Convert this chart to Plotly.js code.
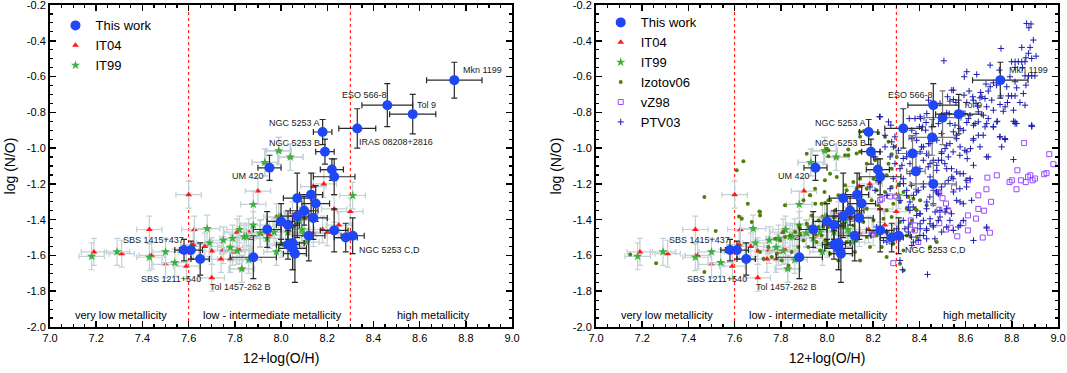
<!DOCTYPE html>
<html>
<head>
<meta charset="utf-8">
<script src="https://cdn.plot.ly/plotly-3.0.1.min.js"></script>
<style>
  html, body { margin: 0; padding: 0; background: #fff; }
  #chart { width: 1067px; height: 373px; }
</style>
</head>
<body>
<div id="chart"></div>
<script>
// This work (both panels)
const workX = [8.75, 8.46, 8.57, 8.33, 8.18, 8.19, 7.95, 8.22, 8.23, 8.07, 8.13, 8.15, 8.10, 8.07, 8.14, 8.00, 8.03, 7.94, 8.23, 8.12, 8.28, 8.31, 8.03, 8.05, 8.05, 8.06, 7.58, 7.61, 7.65, 7.88];
const workY = [-0.62, -0.76, -0.81, -0.89, -0.91, -1.02, -1.11, -1.12, -1.16, -1.28, -1.26, -1.31, -1.35, -1.38, -1.39, -1.41, -1.43, -1.455, -1.46, -1.49, -1.50, -1.49, -1.54, -1.53, -1.56, -1.59, -1.57, -1.57, -1.62, -1.61];
const workXErr = [0.12, 0.11, 0.10, 0.08, 0.04, 0.04, 0.05, 0.05, 0.09, 0.06, 0.05, 0.06, 0.06, 0.07, 0.06, 0.06, 0.05, 0.06, 0.06, 0.07, 0.05, 0.05, 0.05, 0.05, 0.06, 0.05, 0.04, 0.05, 0.04, 0.10];
const workYErr = [0.10, 0.12, 0.11, 0.11, 0.07, 0.07, 0.07, 0.06, 0.10, 0.14, 0.12, 0.10, 0.08, 0.12, 0.12, 0.10, 0.08, 0.10, 0.12, 0.14, 0.08, 0.10, 0.08, 0.15, 0.12, 0.16, 0.06, 0.05, 0.09, 0.12];

// extra high-metallicity points of this work, right panel only
const extraX = [8.50, 8.455, 8.37, 8.385, 8.46];
const extraY = [-0.83, -0.94, -1.03, -1.13, -1.20];
const extraXErr = [0.08, 0.10, 0.07, 0.04, 0.10];
const extraYErr = [0.15, 0.10, 0.10, 0.10, 0.12];

// IT04
const it04X = [7.19, 7.31, 7.43, 7.44, 7.50, 7.60, 7.59, 7.62, 7.70, 7.625, 7.67, 7.70, 7.74, 7.78, 7.75, 7.79, 7.82, 7.83, 7.86, 7.90, 7.91, 7.95, 8.02, 8.05, 8.07, 8.10, 8.14, 8.185, 8.23, 8.18, 8.20, 8.25, 8.30, 8.14, 7.98, 8.09, 7.81, 7.87, 7.99, 8.04, 7.93];
const it04Y = [-1.58, -1.59, -1.455, -1.60, -1.65, -1.26, -1.66, -1.54, -1.725, -1.455, -1.55, -1.575, -1.62, -1.62, -1.57, -1.58, -1.57, -1.675, -1.47, -1.24, -1.48, -1.485, -1.43, -1.375, -1.365, -1.395, -1.215, -1.20, -1.34, -1.455, -1.47, -1.43, -1.355, -1.475, -1.385, -1.475, -1.47, -1.505, -1.015, -1.05, -1.08];

// IT99
const it99X = [7.18, 7.29, 7.43, 7.50, 7.54, 7.68, 7.69, 7.75, 7.78, 7.81, 7.82, 7.84, 7.83, 7.86, 7.88, 7.88, 7.91, 7.94, 7.97, 7.99, 8.00, 7.98, 8.03, 8.08, 8.09, 8.10, 8.11, 8.31, 7.79, 7.85, 7.93, 7.99, 8.04];
const it99Y = [-1.605, -1.58, -1.61, -1.58, -1.64, -1.45, -1.53, -1.515, -1.555, -1.575, -1.455, -1.495, -1.675, -1.625, -1.315, -1.43, -1.475, -1.505, -1.47, -1.385, -1.535, -1.58, -1.47, -1.405, -1.455, -1.48, -1.525, -1.265, -1.505, -1.495, -1.08, -1.015, -1.05];

// Izotov06
const izoX = [7.148, 7.26, 7.469, 7.469, 7.518, 7.609, 7.638, 7.657, 7.619, 7.631, 7.674, 7.71, 7.707, 7.746, 7.775, 7.797, 7.818, 7.84, 7.862, 7.883,
  7.898, 7.876, 7.847, 7.92, 7.934, 7.949, 7.963, 7.977, 7.992, 7.999, 8.006, 7.927, 7.949, 7.989, 8.006, 7.992, 7.912, 7.879, 7.811, 7.782,
  7.761, 7.725, 7.71, 7.804, 7.833, 8.035, 8.028, 8.006,
  7.71, 7.818, 7.912, 8.006, 8.092, 8.143, 8.172, 8.208, 8.266, 8.28, 8.258, 8.229, 8.201, 8.143, 8.114, 8.078, 8.042, 8.013, 7.991, 7.948,
  7.926, 7.898, 7.977, 8.013, 8.049, 8.085, 8.128, 8.172, 8.215, 8.251, 8.28, 8.309, 8.331, 8.352, 8.374, 8.403, 8.431, 8.388, 8.345, 8.316,
  8.287, 8.258, 8.222, 8.193, 8.172, 8.143, 8.10, 8.071, 8.035, 7.999, 7.963, 7.934, 7.912, 7.883, 7.941, 7.984, 8.027, 8.071, 8.114, 8.157,
  8.201, 8.244, 8.28, 8.316, 8.359, 8.374, 8.345, 8.302, 8.258, 8.215, 8.172, 8.128, 8.085, 8.042, 7.999, 7.955, 7.919, 7.97, 8.013, 8.071,
  8.121, 8.186, 8.237, 8.287, 8.331, 8.388, 8.475, 8.446, 8.316, 8.331, 8.367, 8.381, 8.143, 8.049, 8.258,
  8.143, 8.16, 8.143, 8.222, 8.251, 8.266, 8.294, 8.28, 8.302, 8.092, 8.078, 8.128, 7.999];
const izoY = [-1.594, -1.643, -1.273, -1.693, -1.464, -1.124, -1.074, -1.311, -1.382, -1.395, -1.413, -1.376, -1.354, -1.553, -1.507, -1.516, -1.497, -1.488, -1.469, -1.479,
  -1.516, -1.553, -1.581, -1.441, -1.46, -1.479, -1.441, -1.488, -1.516, -1.553, -1.441, -1.264, -1.311, -1.245, -1.292, -1.307, -1.423, -1.432, -1.469, -1.59,
  -1.609, -1.619, -1.581, -1.628, -1.656, -1.348, -1.385, -1.012,
  -1.357, -1.32, -1.031, -1.046, -1.04, -1.021, -1.087, -1.068, -1.087, -1.115, -1.152, -1.189, -1.171, -1.171, -1.189, -1.208, -1.161, -1.143, -1.18, -1.227,
  -1.264, -1.292, -1.311, -1.292, -1.264, -1.236, -1.227, -1.227, -1.236, -1.245, -1.217, -1.208, -1.245, -1.273, -1.283, -1.292, -1.32, -1.348, -1.339, -1.301,
  -1.311, -1.348, -1.32, -1.292, -1.339, -1.367, -1.329, -1.367, -1.385, -1.395, -1.404, -1.376, -1.423, -1.451, -1.46, -1.441, -1.46, -1.441, -1.432, -1.413,
  -1.404, -1.395, -1.385, -1.413, -1.423, -1.46, -1.488, -1.479, -1.469, -1.488, -1.497, -1.516, -1.525, -1.544, -1.516, -1.525, -1.553, -1.572, -1.591, -1.572,
  -1.581, -1.553, -1.553, -1.535, -1.572, -1.497, -1.525, -1.553, -1.647, -1.684, -1.404, -1.339, -1.628, -1.628, -1.609,
  -0.909, -0.905, -0.937, -0.915, -0.937, -0.965, -0.993, -1.034, -1.049, -1.008, -1.04, -1.03, -1.003];

// vZ98
const vz98X = [8.853, 8.962, 8.98, 8.824, 8.735, 8.694, 8.88, 8.90, 8.87, 8.84, 8.86, 8.80, 8.79, 8.89, 8.94, 8.95, 8.82, 8.69, 8.61, 8.55,
  8.655, 8.71, 8.486, 8.50, 8.655, 8.68, 8.486, 8.525, 8.61, 8.645, 8.59, 8.61, 8.535, 8.515, 8.705, 8.674, 8.564, 8.395, 8.287, 8.486,
  8.515, 8.23, 8.30, 8.38, 8.107, 8.02, 8.198, 8.273, 8.237, 8.363, 8.381, 8.194, 8.482];
const vz98Y = [-0.971, -1.034, -1.09, -1.124, -1.152, -1.165, -1.152, -1.17, -1.16, -1.18, -1.19, -1.18, -1.19, -1.18, -1.146, -1.14, -1.23, -1.23, -1.18, -1.22,
  -1.264, -1.30, -1.25, -1.28, -1.34, -1.35, -1.344, -1.348, -1.376, -1.394, -1.42, -1.46, -1.445, -1.455, -1.473, -1.50, -1.493, -1.525, -1.643, -1.42,
  -1.31, -1.29, -1.27, -1.46, -1.395, -1.43, -1.484, -1.27, -1.283, -1.404, -1.432, -1.478, -1.245];

// PTV03
const ptvX = [8.864, 8.883, 8.874, 8.893, 8.753, 8.843, 8.879, 8.872, 8.861, 8.905, 8.886, 8.506, 8.706, 8.799, 8.814, 8.828, 8.843, 8.857, 8.814, 8.846,
  8.746, 8.605, 8.594, 8.648, 8.857, 8.872, 8.886, 8.90, 8.792, 8.814, 8.688, 8.734, 8.778, 8.821, 8.861, 8.547, 8.615, 8.665, 8.698, 8.752,
  8.785, 8.799, 8.814, 8.85, 8.631, 8.662, 8.684, 8.713, 8.532, 8.558, 8.605, 8.645, 8.749, 8.781, 8.835, 8.857, 8.691, 8.72, 8.763, 8.655,
  8.529, 8.597, 8.619, 8.677, 8.698, 8.737, 8.807, 8.814, 8.886, 8.605, 8.641, 8.532, 8.554, 8.496, 8.518, 8.405, 8.429, 8.453, 8.482, 8.356,
  8.381, 8.684,
  8.227, 8.276, 8.294, 8.251, 8.287, 8.309, 8.367, 8.385, 8.40, 8.414, 8.427, 8.439, 8.489, 8.54, 8.522, 8.547, 8.569, 8.593, 8.633, 8.651,
  8.67, 8.706, 8.72, 8.59, 8.612, 8.634, 8.655, 8.691, 8.72, 8.735, 8.771, 8.807, 8.814, 8.821, 8.886, 8.749, 8.771, 8.756, 8.807, 8.655,
  8.634, 8.576, 8.547, 8.561, 8.532, 8.511, 8.496, 8.576, 8.605, 8.691, 8.525, 8.475, 8.446, 8.417, 8.403, 8.439, 8.345, 8.33, 8.229, 8.208,
  8.273,
  8.676, 8.72, 8.748, 8.77, 8.886, 8.698, 8.621, 8.597, 8.575, 8.607, 8.546, 8.518, 8.496, 8.482, 8.51, 8.539, 8.561, 8.59, 8.619, 8.604,
  8.575, 8.546, 8.525, 8.496, 8.474, 8.445, 8.46, 8.489, 8.518, 8.539, 8.482, 8.46, 8.431, 8.402, 8.366, 8.417, 8.402, 8.431, 8.373, 8.359,
  8.344, 8.388, 8.417, 8.366, 8.33, 8.359, 8.402, 8.438, 8.46, 8.431, 8.409, 8.388, 8.467, 8.496, 8.561, 8.59, 8.633, 8.662, 8.561, 8.59,
  8.626, 8.691, 8.59, 8.568, 8.518, 8.496, 8.467, 8.431, 8.327, 8.435, 8.316, 8.337,
  8.294, 8.316, 8.345, 8.359, 8.287, 8.316, 8.273, 8.345, 8.374, 8.395, 8.417, 8.446, 8.475, 8.496, 8.518, 8.54, 8.576, 8.605, 8.634, 8.511,
  8.482, 8.547, 8.576, 8.511, 8.489, 8.46, 8.431, 8.403, 8.388, 8.359, 8.33, 8.352, 8.417, 8.395, 8.367, 8.446, 8.532, 8.547, 8.576, 8.691,
  8.634, 8.302, 8.258, 8.244, 8.28, 8.215, 8.316,
  8.23, 8.266, 8.251, 8.28, 8.201, 8.222, 8.186, 8.208, 8.259, 8.331, 8.316, 8.352, 8.432, 8.403, 8.352, 8.316, 8.259, 8.23, 8.374, 8.403,
  8.446, 8.468, 8.475, 8.446, 8.417, 8.388, 8.439, 8.367, 8.403, 8.432, 8.324, 8.461];
const ptvY = [-0.303, -0.306, -0.327, -0.396, -0.443, -0.437, -0.437, -0.47, -0.495, -0.486, -0.499, -0.512, -0.536, -0.517, -0.517, -0.517, -0.517, -0.517, -0.549, -0.549,
  -0.564, -0.573, -0.601, -0.588, -0.596, -0.596, -0.596, -0.596, -0.601, -0.629, -0.642, -0.648, -0.657, -0.663, -0.648, -0.676, -0.681, -0.689, -0.681, -0.708,
  -0.708, -0.708, -0.708, -0.695, -0.713, -0.719, -0.723, -0.732, -0.737, -0.745, -0.745, -0.75, -0.756, -0.745, -0.745, -0.76, -0.769, -0.788, -0.794, -0.797,
  -0.807, -0.807, -0.816, -0.816, -0.835, -0.85, -0.85, -0.863, -0.872, -0.857, -0.863, -0.863, -0.872, -0.816, -0.803, -0.835, -0.857, -0.881, -0.863, -0.835,
  -0.835, -0.881,
  -0.825, -0.872, -0.937, -0.993, -0.993, -1.012, -0.947, -0.919, -0.881, -0.881, -0.90, -0.732, -0.75, -0.676, -0.713, -0.728, -0.732, -0.704, -0.732, -0.765,
  -0.713, -0.657, -0.635, -0.807, -0.835, -0.872, -0.853, -0.863, -0.881, -0.853, -0.769, -0.788, -0.853, -0.863, -0.878, -0.937, -0.952, -0.993, -1.064, -0.928,
  -0.947, -0.891, -0.909, -0.947, -0.975, -1.003, -1.03, -0.993, -1.021, -1.049, -1.049, -0.956, -0.975, -0.993, -1.021, -1.04, -1.03, -1.058, -1.021, -1.049,
  -1.049,
  -0.928, -0.881, -0.937, -0.947, -0.878, -1.049, -1.003, -1.012, -1.04, -1.059, -1.021, -0.984, -1.021, -1.068, -1.087, -1.115, -1.133, -1.143, -1.171, -1.217,
  -1.227, -1.171, -1.18, -1.217, -1.245, -1.273, -1.311, -1.348, -1.339, -1.367, -1.404, -1.441, -1.46, -1.488, -1.497, -1.404, -1.367, -1.339, -1.329, -1.301,
  -1.264, -1.245, -1.217, -1.208, -1.171, -1.143, -1.115, -1.105, -1.068, -1.031, -0.993, -0.956, -0.947, -0.919, -0.928, -0.90, -0.956, -0.993, -1.292, -1.311,
  -1.292, -1.441, -1.404, -1.441, -1.441, -1.469, -1.507, -1.507, -1.68, -1.706, -1.488, -1.451,
  -1.087, -1.115, -1.049, -1.087, -1.171, -1.199, -1.227, -1.236, -1.264, -1.236, -1.199, -1.161, -1.096, -1.068, -1.115, -1.161, -1.143, -1.18, -1.096, -1.199,
  -1.255, -1.245, -1.301, -1.357, -1.385, -1.432, -1.451, -1.423, -1.376, -1.348, -1.404, -1.469, -1.488, -1.516, -1.544, -1.395, -1.404, -1.46, -1.432, -1.447,
  -1.516, -1.451, -1.469, -1.516, -1.535, -1.441, -1.628,
  -0.825, -0.853, -0.928, -0.965, -1.049, -1.189, -1.217, -1.236, -1.264, -1.199, -1.292, -1.329, -1.301, -1.367, -1.441, -1.507, -1.525, -1.46, -1.525, -1.451,
  -1.423, -1.357, -1.124, -1.087, -1.068, -1.031, -0.975, -0.90, -0.825, -0.807, -1.096, -1.236];

// object labels
const labelText = ['Mkn 1199', 'ESO 566-8', 'Tol 9', 'IRAS 08208+2816', 'NGC 5253 A', 'NGC 5253 B', 'UM 420', 'SBS 1415+437', 'SBS 1211+540', 'Tol 1457-262 B', 'NGC 5253 C,D'];
const labelX = [8.777, 8.36, 8.63, 8.496, 8.06, 8.06, 7.855, 7.447, 7.524, 7.823, 8.33];
const labelY = [-0.564, -0.704, -0.76, -0.965, -0.862, -0.971, -1.157, -1.512, -1.73, -1.777, -1.568];
const labelAnchor = ['left', 'center', 'center', 'center', 'center', 'center', 'center', 'center', 'center', 'center', 'left'];
const labelOnRight = [true, true, true, false, true, true, true, true, true, true, true];

// metallicity regions
const zoneText = ['very low metallicity', 'low - intermediate metallicity', 'high metallicity'];
const zoneX = [7.307, 7.965, 8.66];
const zoneY = -1.935;
const zoneEdges = [7.6, 8.3];

const xTickVals = [7.0, 7.2, 7.4, 7.6, 7.8, 8.0, 8.2, 8.4, 8.6, 8.8, 9.0];
const xTickText = ['7.0', '7.2', '7.4', '7.6', '7.8', '8.0', '8.2', '8.4', '8.6', '8.8', '9.0'];
const yTickVals = [-0.2, -0.4, -0.6, -0.8, -1.0, -1.2, -1.4, -1.6, -1.8, -2.0];
const yTickText = ['-0.2', '-0.4', '-0.6', '-0.8', '-1.0', '-1.2', '-1.4', '-1.6', '-1.8', '-2.0'];

const FONT = 'Liberation Sans, Arial, sans-serif';
const itErr = { type: 'constant', color: '#c2d1d5', thickness: 1.2, width: 3 };

function panel(xa, ya, lg, showLegend) {
    const base = { xaxis: xa, yaxis: ya, legend: lg, hoverinfo: 'skip' };
    const it04 = Object.assign({}, base, {
        name: 'IT04', x: it04X, y: it04Y, type: 'scatter', mode: 'markers',
        marker: { symbol: 'triangle-up', size: 6, color: '#ff1a1a' },
        error_x: Object.assign({ value: 0.055 }, itErr),
        error_y: Object.assign({ value: 0.075 }, itErr),
        legendrank: 2, showlegend: showLegend
    });
    const it99 = Object.assign({}, base, {
        name: 'IT99', x: it99X, y: it99Y, type: 'scatter', mode: 'markers',
        marker: { symbol: 'star', size: 7, color: '#3cb03c' },
        error_x: Object.assign({ value: 0.055 }, itErr),
        error_y: Object.assign({ value: 0.075 }, itErr),
        legendrank: 3, showlegend: showLegend
    });
    const work = Object.assign({}, base, {
        name: 'This work', x: workX, y: workY, type: 'scatter', mode: 'markers',
        marker: { symbol: 'circle', size: 10, color: '#1f47f5' },
        error_x: { type: 'data', array: workXErr, color: '#2a2a2a', thickness: 1.2, width: 3 },
        error_y: { type: 'data', array: workYErr, color: '#2a2a2a', thickness: 1.2, width: 3 },
        legendrank: 1, showlegend: showLegend
    });
    return [it04, it99, work];
}

const left = panel('x', 'y', 'legend', true);

const rightBase = { xaxis: 'x2', yaxis: 'y2', legend: 'legend2', hoverinfo: 'skip' };
const rightTraces = [
    Object.assign({}, left[0], rightBase),
    Object.assign({}, left[1], rightBase),
    Object.assign({}, rightBase, {
        name: 'Izotov06', x: izoX, y: izoY, type: 'scatter', mode: 'markers',
        marker: { symbol: 'circle', size: 4, color: '#4f7f0c' }, legendrank: 4
    }),
    Object.assign({}, rightBase, {
        name: 'vZ98', x: vz98X, y: vz98Y, type: 'scatter', mode: 'markers',
        marker: { symbol: 'square-open', size: 5, color: '#9a4dff', line: { width: 1 } }, legendrank: 5
    }),
    Object.assign({}, rightBase, {
        name: 'PTV03', x: ptvX, y: ptvY, type: 'scatter', mode: 'markers',
        marker: { symbol: 'cross-thin-open', size: 4.5, color: '#1c1cb0', line: { width: 1, color: '#1c1cb0' } }, legendrank: 6
    }),
    Object.assign({}, rightBase, {
        name: 'extra', x: extraX, y: extraY, type: 'scatter', mode: 'markers', showlegend: false,
        marker: { symbol: 'circle', size: 10, color: '#1f47f5' },
        error_x: { type: 'data', array: extraXErr, color: '#777', thickness: 1.2, width: 3 },
        error_y: { type: 'data', array: extraYErr, color: '#777', thickness: 1.2, width: 3 }
    }),
    Object.assign({}, left[2], rightBase)
];

function xAxis(domain, anchor) {
    return {
        domain: domain, anchor: anchor, range: [7, 9],
        tickmode: 'array', tickvals: xTickVals, ticktext: xTickText,
        ticks: 'inside', ticklen: 6, tickwidth: 1.5, tickcolor: '#000',
        minor: { tickmode: 'linear', tick0: 7, dtick: 0.05, ticks: 'inside', ticklen: 3, tickwidth: 1.2, tickcolor: '#000', showgrid: false },
        showline: true, linewidth: 2, linecolor: '#000', mirror: 'ticks',
        showgrid: false, zeroline: false, ticklabeloverflow: 'allow',
        tickfont: { family: FONT, size: 11, color: '#000' },
        title: { text: '12+log(O/H)', font: { family: FONT, size: 14, color: '#000' }, standoff: 10 }
    };
}
function yAxis(anchor) {
    return {
        domain: [0.1233, 0.9866], anchor: anchor, range: [-2, -0.2],
        tickmode: 'array', tickvals: yTickVals, ticktext: yTickText,
        ticks: 'inside', ticklen: 6, tickwidth: 1.5, tickcolor: '#000',
        minor: { tickmode: 'linear', tick0: -2, dtick: 0.05, ticks: 'inside', ticklen: 3, tickwidth: 1.2, tickcolor: '#000', showgrid: false },
        showline: true, linewidth: 2, linecolor: '#000', mirror: 'ticks',
        showgrid: false, zeroline: false, ticklabeloverflow: 'allow',
        tickfont: { family: FONT, size: 11, color: '#000' },
        title: { text: 'log (N/O)', font: { family: FONT, size: 14, color: '#000' }, standoff: 8 }
    };
}

const annotations = [];
const shapes = [];
[['x', 'y'], ['x2', 'y2']].forEach(function (ax, p) {
    labelText.forEach(function (t, i) {
        if (p === 1 && !labelOnRight[i]) return;
        annotations.push({
            xref: ax[0], yref: ax[1], x: labelX[i], y: labelY[i], text: t, showarrow: false,
            xanchor: labelAnchor[i], yanchor: 'middle',
            font: { family: FONT, size: 9, color: '#222' }
        });
    });
    zoneText.forEach(function (t, i) {
        annotations.push({
            xref: ax[0], yref: ax[1], x: zoneX[i], y: zoneY, text: t, showarrow: false,
            xanchor: 'center', yanchor: 'middle',
            font: { family: FONT, size: 11, color: '#000' }
        });
    });
    zoneEdges.forEach(function (e) {
        shapes.push({
            type: 'line', xref: ax[0], yref: ax[1] + ' domain', x0: e, x1: e, y0: 0, y1: 1,
            line: { color: '#ff0000', width: 1, dash: 'dot' }, layer: 'below'
        });
    });
});

const legendStyle = {
    xanchor: 'left', yanchor: 'top', bgcolor: 'rgba(0,0,0,0)', borderwidth: 0,
    font: { family: FONT, size: 13, color: '#000' }, tracegroupgap: 0, traceorder: 'normal'
};

Plotly.newPlot('chart', left.concat(rightTraces), {
    width: 1067, height: 373,
    margin: { l: 0, r: 0, t: 0, b: 0 },
    paper_bgcolor: '#fff', plot_bgcolor: '#fff',
    font: { family: FONT },
    xaxis: xAxis([0.0469, 0.4799], 'y'),
    yaxis: yAxis('x'),
    xaxis2: xAxis([0.5586, 0.9916], 'y2'),
    yaxis2: yAxis('x2'),
    legend: Object.assign({ x: 0.052, y: 0.972 }, legendStyle),
    legend2: Object.assign({ x: 0.563, y: 0.98 }, legendStyle),
    annotations: annotations,
    shapes: shapes,
    showlegend: true
}, { staticPlot: true });
</script>
</body>
</html>
